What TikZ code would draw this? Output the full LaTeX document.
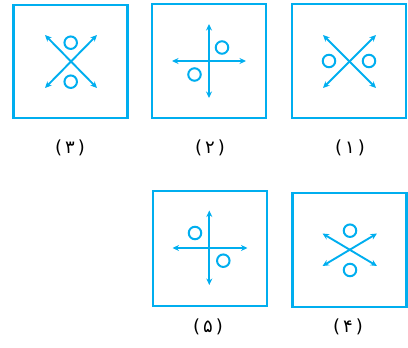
\documentclass[tikz,border=0pt]{standalone}
\usepackage{fontspec}
\newfontfamily\pfont{DejaVu Sans}
\usetikzlibrary{arrows.meta}
\definecolor{cy}{RGB}{0,174,239}
\begin{document}
\begin{tikzpicture}[x=1pt,y=-1pt,
  frame/.style={draw=cy,line width=2.4pt,inner sep=0pt},
  dbl/.style={draw=cy,line width=1.9pt,{Stealth[length=6.5pt,width=6pt]}-{Stealth[length=6.5pt,width=6pt]}},
  ring/.style={draw=cy,line width=2pt,circle,minimum size=12.5pt,inner sep=0pt},
  lab/.style={font=\pfont\fontsize{18}{20}\selectfont,text=black}]
\useasboundingbox (0,0) rectangle (408,348);
% panel (3)
\node[frame,minimum width=114pt,minimum height=113pt] (b3) at (70.5,61.5) {};
\coordinate (a3a) at (45,35); \coordinate (a3b) at (97,88);
\coordinate (a3c) at (97,35); \coordinate (a3d) at (45,88);
\draw[dbl] (a3a) -- (a3b); \draw[dbl] (a3c) -- (a3d);
\node[ring] (c3a) at (70.7,42.7) {};
\node[ring] (c3b) at (70.7,81.7) {};
\node[lab] (l3) at (70,147.5) {(\,۳\,)};
% panel (2)
\node[frame,minimum width=114pt,minimum height=114pt] (b2) at (209,61) {};
\coordinate (a2a) at (209,24); \coordinate (a2b) at (209,98);
\coordinate (a2c) at (172,61); \coordinate (a2d) at (246,61);
\draw[dbl] (a2a) -- (a2b); \draw[dbl] (a2c) -- (a2d);
\node[ring] (c2a) at (222,47.5) {};
\node[ring] (c2b) at (194.5,74.5) {};
\node[lab] (l2) at (210,147.5) {(\,۲\,)};
% panel (1)
\node[frame,minimum width=114pt,minimum height=114pt] (b1) at (349,61) {};
\coordinate (a1a) at (323,35); \coordinate (a1b) at (376,88);
\coordinate (a1c) at (376,35); \coordinate (a1d) at (323,88);
\draw[dbl] (a1a) -- (a1b); \draw[dbl] (a1c) -- (a1d);
\node[ring] (c1a) at (329,61) {};
\node[ring] (c1b) at (369,61) {};
\node[lab] (l1) at (350,147.5) {(\,۱\,)};
% panel (5)
\node[frame,minimum width=114pt,minimum height=115pt] (b5) at (209.8,248.2) {};
\coordinate (a5a) at (209.3,210.5); \coordinate (a5b) at (209.3,285);
\coordinate (a5c) at (172.5,248); \coordinate (a5d) at (247.5,248);
\draw[dbl] (a5a) -- (a5b); \draw[dbl] (a5c) -- (a5d);
\node[ring] (c5a) at (195,233) {};
\node[ring] (c5b) at (223.3,260.7) {};
\node[lab] (l5) at (208,326.5) {(\,۵\,)};
% panel (4)
\node[frame,minimum width=114pt,minimum height=114pt] (b4) at (349.3,249.8) {};
\coordinate (a4a) at (322.5,233.5); \coordinate (a4b) at (377,266);
\coordinate (a4c) at (377,233.5); \coordinate (a4d) at (322.5,266);
\draw[dbl] (a4a) -- (a4b); \draw[dbl] (a4c) -- (a4d);
\node[ring] (c4a) at (350,230.7) {};
\node[ring] (c4b) at (350,270) {};
\node[lab] (l4) at (348,326.5) {(\,۴\,)};
\end{tikzpicture}
\end{document}
